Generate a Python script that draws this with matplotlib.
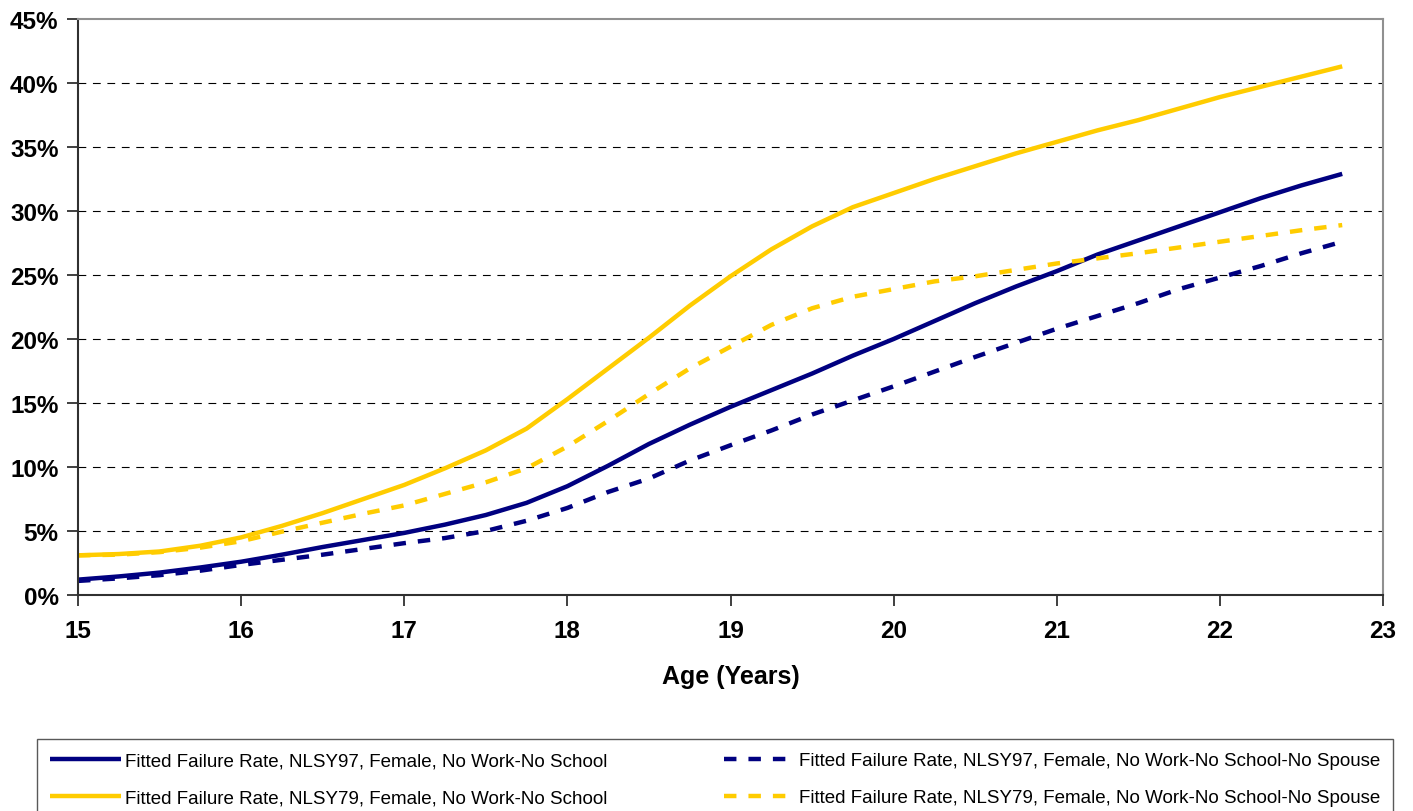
import matplotlib.pyplot as plt
import numpy as np

plt.rcParams['font.family'] = ['Liberation Sans', 'DejaVu Sans']

# ages at quarter-year steps
age = np.arange(15, 23.0, 0.25)

# fitted failure rates, percent
nlsy97_nwns = [1.2, 1.45, 1.75, 2.15, 2.6, 3.15, 3.75, 4.3, 4.85, 5.5, 6.25, 7.2,
               8.5, 10.1, 11.8, 13.3, 14.7, 16.0, 17.3, 18.7, 20.0, 21.4, 22.8, 24.1,
               25.3, 26.6, 27.7, 28.8, 29.9, 31.0, 32.0, 32.9]
nlsy79_nwns = [3.1, 3.2, 3.4, 3.85, 4.5, 5.4, 6.4, 7.5, 8.6, 9.9, 11.3, 13.0,
               15.3, 17.7, 20.1, 22.6, 24.9, 27.0, 28.8, 30.3, 31.4, 32.5, 33.5, 34.5,
               35.4, 36.3, 37.1, 38.0, 38.9, 39.7, 40.5, 41.3]
nlsy97_nwnsns = [1.1, 1.3, 1.55, 1.9, 2.35, 2.75, 3.15, 3.6, 4.05, 4.45, 5.0, 5.8,
                 6.8, 8.05, 9.1, 10.5, 11.7, 12.85, 14.1, 15.2, 16.3, 17.45, 18.6, 19.7,
                 20.8, 21.8, 22.8, 23.9, 24.8, 25.7, 26.7, 27.6]
nlsy79_nwnsns = [3.1, 3.15, 3.35, 3.7, 4.2, 4.95, 5.65, 6.35, 7.0, 7.9, 8.8, 9.9,
                 11.6, 13.6, 15.7, 17.7, 19.4, 21.1, 22.4, 23.3, 23.9, 24.5, 24.9, 25.4,
                 25.9, 26.3, 26.7, 27.15, 27.6, 28.05, 28.5, 28.9]

labels = ['Fitted Failure Rate, NLSY97, Female, No Work-No School',
          'Fitted Failure Rate, NLSY79, Female, No Work-No School',
          'Fitted Failure Rate, NLSY97, Female, No Work-No School-No Spouse',
          'Fitted Failure Rate, NLSY79, Female, No Work-No School-No Spouse']

navy = '#000080'
gold = '#FFCC00'
dash = (0, (2.8, 2.7))

fig = plt.figure(figsize=(14.13, 8.12), dpi=100)
ax = fig.add_axes([78 / 1413, 1 - 596 / 812, 1305 / 1413, 576 / 812])

h1, = ax.plot(age, np.array(nlsy97_nwns) / 100, color=navy, lw=3.2, solid_capstyle='butt')
h2, = ax.plot(age, np.array(nlsy79_nwns) / 100, color=gold, lw=3.2, solid_capstyle='butt')
h3, = ax.plot(age, np.array(nlsy97_nwnsns) / 100, color=navy, lw=3.2, ls=dash, dash_capstyle='butt')
h4, = ax.plot(age, np.array(nlsy79_nwnsns) / 100, color=gold, lw=3.2, ls=dash, dash_capstyle='butt')

ax.set_xlim(15, 23)
ax.set_ylim(0, 0.45)
ax.set_xticks(range(15, 24))
ax.set_yticks(np.arange(0, 0.451, 0.05))
ax.set_yticklabels([f'{int(round(v * 100))}%' for v in np.arange(0, 0.451, 0.05)])

for v in np.arange(0.05, 0.41, 0.05):
    ax.axhline(v, color='black', lw=0.8, ls=(0, (7, 6)), zorder=0)

for side in ['top', 'right']:
    ax.spines[side].set_color('#909090')
    ax.spines[side].set_linewidth(1.5)
for side in ['left', 'bottom']:
    ax.spines[side].set_color('#303030')
    ax.spines[side].set_linewidth(1.5)

ax.tick_params(axis='both', length=8, width=1.3, color='#303030', labelsize=17.5)
ax.tick_params(axis='x', pad=9)
ax.tick_params(axis='y', pad=6)
for lab in ax.get_xticklabels() + ax.get_yticklabels():
    lab.set_fontweight('bold')

ax.set_xlabel('Age (Years)', fontsize=18, fontweight='bold', labelpad=16)

leg = fig.legend([h1, h2, h3, h4], labels, ncol=2, loc='upper left',
                 bbox_to_anchor=(37 / 1413, -0.05, 1356 / 1413, 1 - 740 / 812 + 0.05),
                 mode='expand', fontsize=13.5, handlelength=3.8, handletextpad=0.2,
                 borderaxespad=0, borderpad=0.7, labelspacing=1.05,
                 fancybox=False, frameon=True)
leg.get_frame().set_edgecolor('#303030')
leg.get_frame().set_linewidth(1.0)

fig.savefig('out.png', dpi=100)
